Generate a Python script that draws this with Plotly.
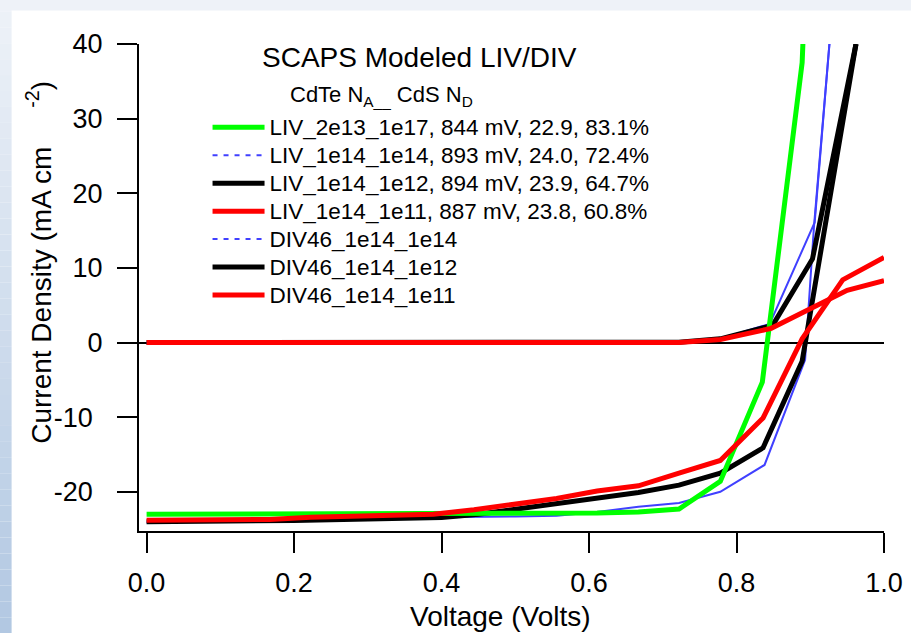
"""SCAPS modeled light (LIV) and dark (DIV) J-V curves for CdTe/CdS doping variants."""

import plotly.graph_objects as go

FONT = "Liberation Sans, Arial, sans-serif"

# --- light IV curves (Voltage in V, current density in mA/cm2) ---
v_liv_2e13_1e17 = [0.0, 0.1, 0.2, 0.3, 0.4, 0.5, 0.556, 0.611, 0.667, 0.722, 0.778, 0.835, 0.889, 0.890]
j_liv_2e13_1e17 = [-23.0, -23.0, -23.0, -23.0, -22.95, -22.95, -22.9, -22.85, -22.7, -22.3, -18.6, -5.3, 37.5, 40.0]

v_liv_1e14_1e14 = [0.0, 0.1, 0.2, 0.3, 0.4, 0.5, 0.556, 0.611, 0.667, 0.722, 0.778, 0.838, 0.893, 0.905, 0.926]
j_liv_1e14_1e14 = [-24.1, -24.0, -23.8, -23.6, -23.4, -23.3, -23.2, -22.7, -22.0, -21.5, -20.0, -16.4, -2.3, 15.5, 40.0]

v_liv_1e14_1e12 = [0.0, 0.1, 0.2, 0.3, 0.4, 0.45, 0.5, 0.556, 0.611, 0.667, 0.722, 0.778, 0.836, 0.889, 0.962]
j_liv_1e14_1e12 = [-24.0, -23.95, -23.85, -23.65, -23.45, -23.0, -22.3, -21.6, -20.8, -20.1, -19.1, -17.5, -14.1, -2.5, 40.0]

v_liv_1e14_1e11 = [0.0, 0.111, 0.167, 0.222, 0.278, 0.333, 0.389, 0.444, 0.5, 0.556,
                   0.611, 0.667, 0.722, 0.778, 0.836, 0.889, 0.944, 1.0]
j_liv_1e14_1e11 = [-23.8, -23.75, -23.7, -23.4, -23.3, -23.1, -23.0, -22.4, -21.7, -20.9,
                   -19.9, -19.2, -17.5, -15.8, -10.1, 0.5, 8.4, 11.4]

# --- dark IV curves ---
v_div_1e14_1e14 = [0.0, 0.722, 0.778, 0.845, 0.906, 0.926]
j_div_1e14_1e14 = [0.0, 0.05, 0.5, 2.5, 16.1, 40.0]

v_div_1e14_1e12 = [0.0, 0.722, 0.778, 0.849, 0.903, 0.962]
j_div_1e14_1e12 = [0.0, 0.05, 0.5, 2.3, 11.2, 40.0]

v_div_1e14_1e11 = [0.0, 0.722, 0.778, 0.847, 0.95, 1.0]
j_div_1e14_1e11 = [0.0, 0.0, 0.4, 1.9, 7.0, 8.3]

x_ticks = [0.0, 0.2, 0.4, 0.6, 0.8, 1.0]
x_tick_labels = ["0.0", "0.2", "0.4", "0.6", "0.8", "1.0"]
y_ticks = [-20, -10, 0, 10, 20, 30, 40]
# negative labels sit a little left of the others in the original
y_tick_labels = ["-20\u00a0\u200a", "-10\u00a0\u200a", "0", "10", "20", "30", "40"]

GREEN = "#00FF00"
BLUE = "#4040FF"
BLACK = "#000000"
RED = "#FF0000"


def legend_label(text):
    return f'<span style="font-size:22.5px">{text}</span>'


fig = go.Figure()

# (x, y, name, color, width, legend rank, show in legend); drawn in this order
curves = [
    (v_div_1e14_1e14, j_div_1e14_1e14, "DIV46_1e14_1e14", BLUE, 2, 5, False),
    (v_liv_1e14_1e14, j_liv_1e14_1e14, "LIV_1e14_1e14, 893 mV, 24.0, 72.4%", BLUE, 2, 2, False),
    (v_div_1e14_1e12, j_div_1e14_1e12, "DIV46_1e14_1e12", BLACK, 5, 6, True),
    (v_liv_1e14_1e12, j_liv_1e14_1e12, "LIV_1e14_1e12, 894 mV, 23.9, 64.7%", BLACK, 5, 3, True),
    (v_liv_2e13_1e17, j_liv_2e13_1e17, "LIV_2e13_1e17, 844 mV, 22.9, 83.1%", GREEN, 5, 1, True),
    (v_div_1e14_1e11, j_div_1e14_1e11, "DIV46_1e14_1e11", RED, 5, 7, True),
    (v_liv_1e14_1e11, j_liv_1e14_1e11, "LIV_1e14_1e11, 887 mV, 23.8, 60.8%", RED, 5, 4, True),
]

for x, y, name, color, width, rank, show in curves:
    fig.add_trace(go.Scatter(
        x=x, y=y, mode="lines", name=legend_label(name),
        line=dict(color=color, width=width),
        legendrank=rank, showlegend=show,
    ))

# the thin blue curves are keyed with a dotted sample in the original legend
for name, rank in [("LIV_1e14_1e14, 893 mV, 24.0, 72.4%", 2), ("DIV46_1e14_1e14", 5)]:
    fig.add_trace(go.Scatter(
        x=[None], y=[None], mode="lines", name=legend_label(name),
        line=dict(color=BLUE, width=2, dash="5px,6px"),
        legendrank=rank,
    ))

# slide background: pale strip on top, blue gradient strip on the left
shapes = [dict(type="rect", xref="paper", yref="paper", x0=-0.19, x1=1.04,
               y0=1.069, y1=1.10, fillcolor="#EEF2F8", line_width=0, layer="below")]
n_bands = 40
top_rgb = (238, 242, 248)
bot_rgb = (178, 200, 226)
y_top, y_bot = 1.10, -0.21
for i in range(n_bands):
    t = i / (n_bands - 1)
    rgb = tuple(round(a + (b - a) * t) for a, b in zip(top_rgb, bot_rgb))
    y1 = y_top - (y_top - y_bot) * i / n_bands
    y0 = y_top - (y_top - y_bot) * (i + 1) / n_bands
    shapes.append(dict(type="rect", xref="paper", yref="paper", x0=-0.19, x1=-0.171,
                       y0=y0, y1=y1, fillcolor="rgb(%d,%d,%d)" % rgb, line_width=0,
                       layer="below"))

fig.update_layout(
    width=911,
    height=633,
    margin=dict(l=139, r=27, t=44, b=102),
    paper_bgcolor="white",
    plot_bgcolor="white",
    font=dict(family=FONT, color="black"),
    shapes=shapes,
    legend=dict(
        x=0.092, y=0.868, xanchor="left", yanchor="top",
        bgcolor="rgba(0,0,0,0)", font=dict(size=19.2, family=FONT),
        itemwidth=52, traceorder="normal", tracegroupgap=0,
    ),
    xaxis=dict(
        range=[-0.0103, 1.0], tickvals=x_ticks, ticktext=x_tick_labels,
        ticks="outside", ticklen=20, tickwidth=2, tickcolor="black",
        showline=True, linewidth=2, linecolor="black",
        showgrid=False, zeroline=False, tickfont=dict(size=27),
        ticklabelstandoff=7, automargin=False,
    ),
    yaxis=dict(
        range=[-25.25, 40], tickvals=y_ticks, ticktext=y_tick_labels,
        ticks="outside", ticklen=20, tickwidth=2, tickcolor="black",
        showline=True, linewidth=2, linecolor="black",
        showgrid=False, zeroline=True, zerolinecolor="black", zerolinewidth=2,
        tickfont=dict(size=27), ticklabelstandoff=9, automargin=False,
    ),
    annotations=[
        dict(text="SCAPS Modeled LIV/DIV", x=0.3766, y=0.9715, xref="paper", yref="paper",
             xanchor="center", yanchor="middle", showarrow=False, font=dict(size=28)),
        dict(text="CdTe N<sub>A__</sub> CdS N<sub>D</sub>", x=0.1998, y=0.893,
             xref="paper", yref="paper", xanchor="left", yanchor="middle",
             showarrow=False, font=dict(size=22)),
        dict(text="Current Density (mA cm\u00a0\u00a0\u00a0\u00a0\u00a0<sup>-2</sup>)",
             x=-0.1334, y=0.552, xref="paper", yref="paper", textangle=-90,
             xanchor="center", yanchor="middle", showarrow=False, font=dict(size=28)),
        dict(text="Voltage (Volts)", x=0.4854, y=-0.1757, xref="paper", yref="paper",
             xanchor="center", yanchor="middle", showarrow=False, font=dict(size=28)),
    ],
)

fig.write_html("out.html", config={"displayModeBar": False},
               post_script="document.body.style.margin = '0';")
